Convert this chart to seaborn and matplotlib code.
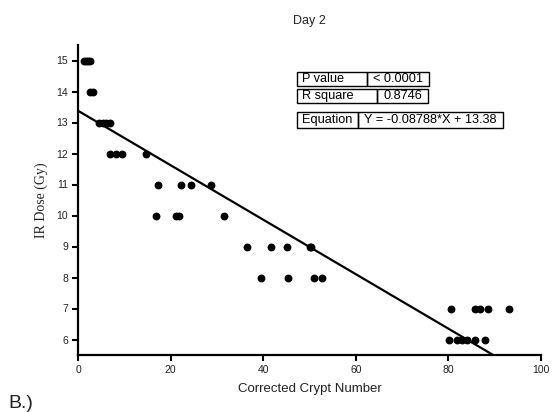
import matplotlib
matplotlib.use("Agg")
import matplotlib.pyplot as plt
from matplotlib.patches import Rectangle
import seaborn as sns
import pandas as pd

# Corrected crypt counts and the radiation dose each sample received
crypt_number = [1.4, 1.8, 2.2, 2.6,
                2.6, 3.2,
                4.6, 5.4, 6.0, 7.0,
                7.0, 8.2, 9.5, 14.7,
                17.3, 22.2, 24.3, 28.7,
                16.8, 21.1, 21.9, 31.5,
                36.5, 41.7, 45.1, 50.0, 50.3,
                39.5, 45.4, 51.0, 52.8,
                80.6, 85.7, 86.8, 88.6, 93.1,
                80.1, 81.9, 83.0, 84.0, 85.7, 87.9]
ir_dose = [15, 15, 15, 15,
           14, 14,
           13, 13, 13, 13,
           12, 12, 12, 12,
           11, 11, 11, 11,
           10, 10, 10, 10,
           9, 9, 9, 9, 9,
           8, 8, 8, 8,
           7, 7, 7, 7, 7,
           6, 6, 6, 6, 6, 6]

# Linear regression results
slope = -0.08788
intercept = 13.38
p_value_text = "< 0.0001"
r_square_text = "0.8746"
equation_text = "Y = -0.08788*X + 13.38"

x_ticks = [0, 20, 40, 60, 80, 100]
y_ticks = [6, 7, 8, 9, 10, 11, 12, 13, 14, 15]

sns.set_theme(style="ticks")
plt.rcParams["font.family"] = ["Liberation Sans", "DejaVu Sans"]

W, H = 557, 412
fig = plt.figure(figsize=(W / 100, H / 100), dpi=100)
fig.patch.set_facecolor("white")


def fx(px):
    return px / W


def fy(py):
    return 1 - py / H


ax = fig.add_axes([fx(78), fy(355), fx(541) - fx(78), fy(45) - fy(355)])
ax.set_facecolor("white")

df = pd.DataFrame({"crypt": crypt_number, "dose": ir_dose})
sns.scatterplot(data=df, x="crypt", y="dose", color="black", s=32,
                linewidth=0, ax=ax, zorder=3)
ax.axline((0, intercept), slope=slope, color="black", linewidth=1.6, zorder=2)

ax.set_xlim(0, 100)
ax.set_ylim(5.5, 15.5)
ax.set_xticks(x_ticks)
ax.set_yticks(y_ticks)
ax.tick_params(axis="both", direction="out", length=4, width=1.5,
               labelsize=7.5, color="black", labelcolor="#222222", pad=3)
for side in ("top", "right"):
    ax.spines[side].set_visible(False)
for side in ("left", "bottom"):
    ax.spines[side].set_linewidth(1.6)
    ax.spines[side].set_color("black")

ax.set_xlabel("Corrected Crypt Number", fontsize=9.5, color="#222222",
              labelpad=6)
ax.set_ylabel("IR Dose (Gy)", fontsize=10, color="#222222",
              family=["Liberation Serif", "DejaVu Serif"], labelpad=6)
ax.set_title("Day 2", fontsize=9, color="#222222", pad=15)

# Regression summary boxes
rows = [
    ("P value", p_value_text, 297, 367, 429, 72, 86),
    ("R square", r_square_text, 297, 377, 428, 89, 103),
    ("Equation", equation_text, 297, 358, 503, 112, 128),
]
for label, value, x0, xd, x1, y0, y1 in rows:
    for a, b in ((x0, xd), (xd, x1)):
        fig.add_artist(Rectangle((fx(a), fy(y1)), fx(b) - fx(a),
                                 fy(y0) - fy(y1), transform=fig.transFigure,
                                 fill=False, edgecolor="black", linewidth=1.0))
    ym = fy((y0 + y1) / 2)
    fig.text(fx(x0 + 5), ym, label, fontsize=9.2, ha="left", va="center",
             color="black")
    fig.text(fx((xd + x1) / 2), ym, value, fontsize=9.2, ha="center",
             va="center", color="black")

fig.text(fx(8), fy(408), "B.)", fontsize=14, ha="left", va="baseline",
         color="#222222")

fig.savefig("out.png", dpi=100, facecolor="white")
